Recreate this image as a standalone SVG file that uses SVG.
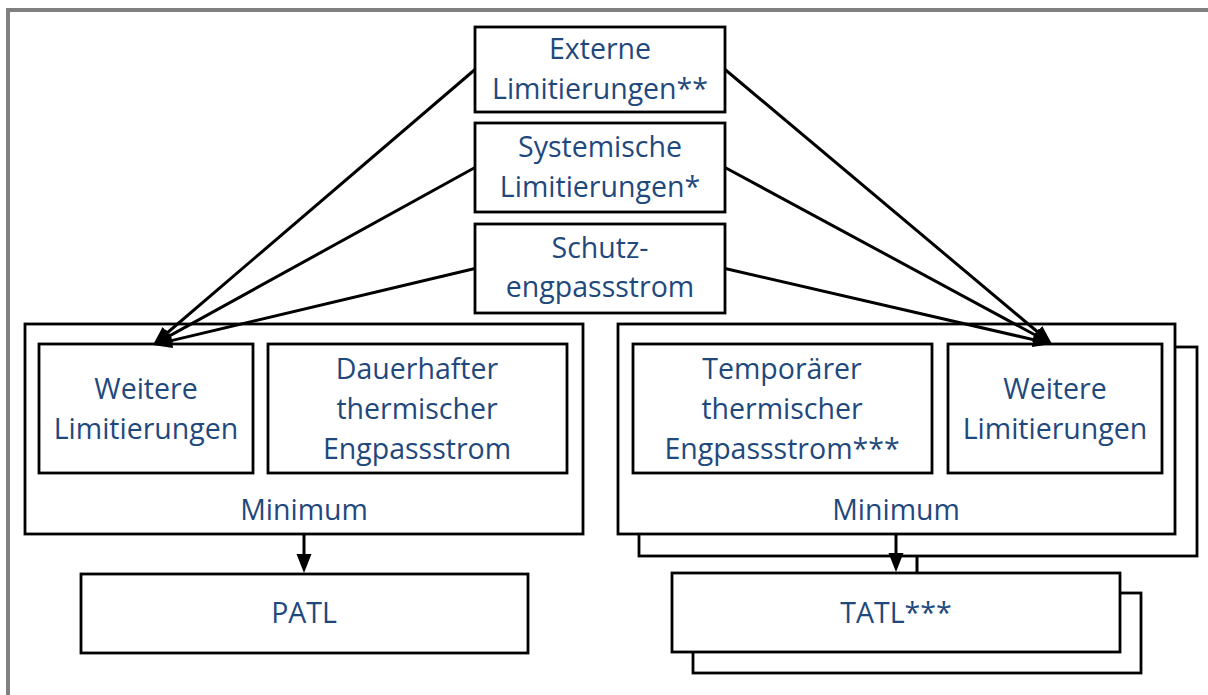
<svg xmlns="http://www.w3.org/2000/svg" width="1208" height="695" viewBox="0 0 1208 695">
<style>
.box{fill:#fff;stroke:#000;stroke-width:2.8}
.t{font-family:"Open Sans","Liberation Sans",sans-serif;font-size:28.5px;fill:#1F497D;text-anchor:middle}
.c{stroke:#000;stroke-width:3;fill:none}
.frame{stroke:#808080;stroke-width:4;fill:none}
</style>
<defs>
<marker id="ah" markerUnits="userSpaceOnUse" markerWidth="22" markerHeight="16" refX="12" refY="7.5" orient="auto">
<path d="M0,0 L19,7.5 L0,15 z" fill="#000"/>
</marker>
</defs>
<rect width="1208" height="695" fill="#fff"/>
<path class="frame" d="M8,695 V10 H1208"/>

<g id="externe">
<rect class="box" x="475" y="27" width="250" height="85"/>
<text class="t" x="600" y="59">Externe</text>
<text class="t" x="600" y="99">Limitierungen**</text>
</g>
<g id="systemische">
<rect class="box" x="475" y="123" width="250" height="89"/>
<text class="t" x="600" y="157">Systemische</text>
<text class="t" x="600" y="197">Limitierungen*</text>
</g>
<g id="schutz">
<rect class="box" x="475" y="224" width="250" height="89"/>
<text class="t" x="600" y="258">Schutz-</text>
<text class="t" x="600" y="297">engpassstrom</text>
</g>

<g id="patl-group">
<rect class="box" x="25" y="324" width="558" height="210"/>
<text class="t" x="304" y="520">Minimum</text>
</g>
<g id="weitere-left">
<rect class="box" x="39" y="344" width="214" height="129"/>
<text class="t" x="146" y="399">Weitere</text>
<text class="t" x="146" y="439">Limitierungen</text>
</g>
<g id="dauerhafter">
<rect class="box" x="268" y="344" width="299" height="129"/>
<text class="t" x="417" y="379">Dauerhafter</text>
<text class="t" x="417" y="419">thermischer</text>
<text class="t" x="417" y="459">Engpassstrom</text>
</g>
<g id="patl">
<rect class="box" x="81" y="574" width="447" height="79"/>
<text class="t" x="304" y="623">PATL</text>
</g>

<g id="tatl-group">
<rect class="box" x="639" y="347" width="558" height="209"/>
<rect class="box" x="618" y="324" width="557" height="210"/>
<text class="t" x="896" y="520">Minimum</text>
</g>
<g id="temporaerer">
<rect class="box" x="633" y="344" width="299" height="129"/>
<text class="t" x="782" y="379">Temporärer</text>
<text class="t" x="782" y="419">thermischer</text>
<text class="t" x="782" y="459">Engpassstrom***</text>
</g>
<g id="weitere-right">
<rect class="box" x="948" y="344" width="214" height="129"/>
<text class="t" x="1055" y="399">Weitere</text>
<text class="t" x="1055" y="439">Limitierungen</text>
</g>
<g id="tatl">
<rect class="box" x="693" y="593" width="448" height="80"/>
<rect class="box" x="672" y="573" width="448" height="79"/>
<text class="t" x="896" y="623">TATL***</text>
</g>

<g id="connectors">
<line class="c" x1="475" y1="69.5" x2="158.3" y2="340.5" marker-end="url(#ah)"/>
<line class="c" x1="475" y1="167.5" x2="159.1" y2="341.6" marker-end="url(#ah)"/>
<line class="c" x1="475" y1="268.5" x2="159.8" y2="343.4" marker-end="url(#ah)"/>
<line class="c" x1="725" y1="69.5" x2="1046.6" y2="339.5" marker-end="url(#ah)"/>
<line class="c" x1="725" y1="167.5" x2="1045.8" y2="340.7" marker-end="url(#ah)"/>
<line class="c" x1="725" y1="268.5" x2="1045.2" y2="342.4" marker-end="url(#ah)"/>
<line class="c" x1="304" y1="535" x2="304" y2="566" marker-end="url(#ah)"/>
<line class="c" x1="896" y1="535" x2="896" y2="565" marker-end="url(#ah)"/>
<line class="c" x1="917" y1="557" x2="917" y2="572"/>
</g>
</svg>
